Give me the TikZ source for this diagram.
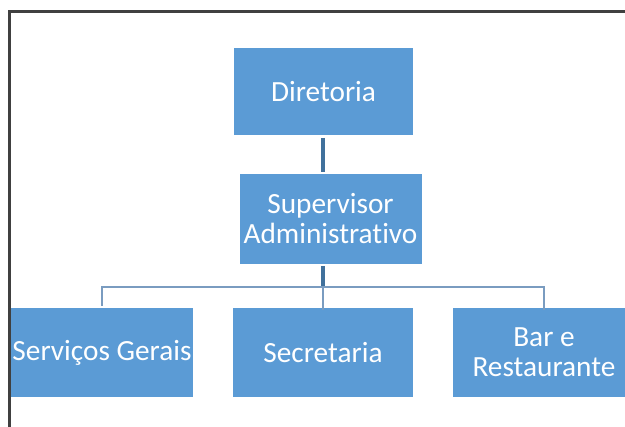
\documentclass[tikz,border=0pt]{standalone}
\usepackage{fontspec}
\setmainfont{Carlito}[Ligatures=NoCommon]
\usepackage{xcolor}
\usepackage{tikz}

\definecolor{boxblue}{HTML}{5B9BD5}
\definecolor{linkblue}{HTML}{41719C}
\definecolor{busblue}{HTML}{7A9CC0}
\definecolor{framegray}{HTML}{404040}

\begin{document}
\begin{tikzpicture}[x=1pt, y=-1pt,
		box/.style={fill=boxblue, draw=none, text=white, align=center, inner sep=0pt,
			minimum width=182pt, minimum height=89pt, font=\fontsize{29.3}{30}\selectfont},
		link/.style={linkblue, line width=3.5pt, shorten <=2pt, shorten >=2pt},
		bus/.style={busblue, line width=2pt}]
		\useasboundingbox (0,0) rectangle (625,427);
		\clip (0,0) rectangle (625,427);

		\node[box, minimum width=179pt, minimum height=87pt] at (323.5, 92) (dir) {Diretoria};
		\node[box, minimum height=90pt] at (330.5, 219) (sup) {Supervisor\\Administrativo};
		\node[box] at (102, 352.5) (serv) {Serviços Gerais};
		\node[box, minimum width=180pt] at (323, 352.5) (sec) {Secretaria};
		\node[box] at (544, 352.5) (bar) {Bar e\\Restaurante};

		\coordinate (dirout) at (323, 136);
		\coordinate (supout) at (323, 264);
		\coordinate (bus) at (323, 287);

		\draw[link] (dirout) -- (dirout |- sup.north);
		\draw[link, shorten >=0pt] (supout) -- (bus);
		\draw[bus, shorten <=2pt] (serv.north) |- (bus) -| ([yshift=-2pt]bar.north);
		\draw[bus] (bus) -- ([yshift=-2pt]bus |- sec.north);

		% frame of the screenshot
		\draw[framegray, line width=2.5pt] (9.5, 430) -- (9.5, 11.5) -- (630, 11.5);
	\end{tikzpicture}
\end{document}
